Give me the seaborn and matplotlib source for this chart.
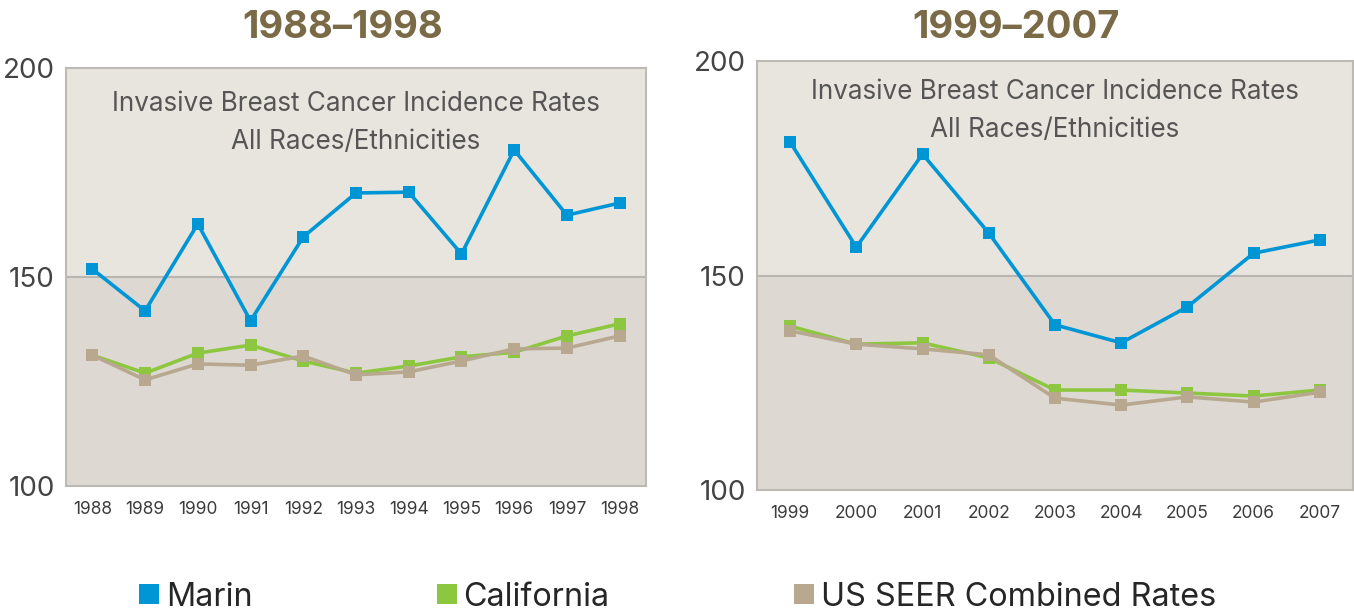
import pandas as pd
import seaborn as sns
import matplotlib.pyplot as plt
from matplotlib.lines import Line2D

# data
years_a = [1988, 1989, 1990, 1991, 1992, 1993, 1994, 1995, 1996, 1997, 1998]
marin_a = [151.9, 141.9, 162.7, 139.5, 159.6, 170.1, 170.3, 155.5, 180.4, 164.8, 167.7]
calif_a = [131.3, 127.0, 131.8, 133.7, 129.9, 127.0, 128.7, 130.9, 132.0, 135.9, 138.8]
seer_a = [131.3, 125.4, 129.2, 128.9, 131.1, 126.6, 127.3, 129.9, 132.8, 133.0, 135.9]

years_b = [1999, 2000, 2001, 2002, 2003, 2004, 2005, 2006, 2007]
marin_b = [181.1, 156.6, 178.3, 159.9, 138.5, 134.3, 142.7, 155.2, 158.3]
calif_b = [138.2, 134.0, 134.3, 130.8, 123.3, 123.3, 122.6, 121.9, 123.3]
seer_b = [137.1, 134.0, 132.9, 131.5, 121.4, 119.8, 121.7, 120.5, 122.8]

series = ['Marin', 'California', 'US SEER Combined Rates']
colors = ['#0096d6', '#8dc63f', '#b8a88f']
titles = ['1988\u20131998', '1999\u20132007']

sns.set_style('white')
plt.rcParams['font.family'] = ['Inter', 'DejaVu Sans']

def to_long(years, marin, calif, seer):
    df = pd.DataFrame({'Year': years, series[0]: marin, series[1]: calif, series[2]: seer})
    return df.melt(id_vars='Year', var_name='Area', value_name='Rate')

data = [to_long(years_a, marin_a, calif_a, seer_a),
        to_long(years_b, marin_b, calif_b, seer_b)]

fig = plt.figure(figsize=(13.54, 6.11), dpi=100)
ax1 = fig.add_axes([66/1354, 1-486/611, 580/1354, 418/611])
ax2 = fig.add_axes([757/1354, 1-490/611, 596/1354, 429/611])

text_y = [(0.913, 0.823), (0.928, 0.839)]
title_x = [343/1354, 1016/1354]

for i, (ax, df) in enumerate(zip([ax1, ax2], data)):
    yrs = df['Year'].unique()
    ax.axhspan(150, 200, color='#e8e5df', zorder=0)
    ax.axhspan(100, 150, color='#ddd9d2', zorder=0)
    ax.axhline(150, color='#b9b6b1', lw=1.5, zorder=1)
    sns.lineplot(data=df, x='Year', y='Rate', hue='Area', palette=colors,
                 marker='s', markersize=8, markeredgewidth=0, linewidth=2.6,
                 ax=ax, legend=False, zorder=3)
    ax.set_xlim(yrs[0] - 0.5, yrs[-1] + 0.5)
    ax.set_ylim(100, 200)
    ax.set_yticks([100, 150, 200])
    ax.set_xticks(yrs)
    ax.set_xticks([y + 0.5 for y in yrs[:-1]], minor=True)
    ax.tick_params(axis='x', which='major', length=0, pad=11, labelsize=12.5, labelcolor='#3c3c3c')
    ax.tick_params(axis='x', which='minor', direction='in', length=7, color='#c4c1bc', width=1.2)
    ax.tick_params(axis='y', length=0, pad=8, labelsize=20, labelcolor='#444444')
    ax.set_xlabel('')
    ax.set_ylabel('')
    for s in ax.spines.values():
        s.set_color('#bdbab5')
        s.set_linewidth(1.5)
    ax.text(0.5, text_y[i][0], 'Invasive Breast Cancer Incidence Rates', transform=ax.transAxes,
            ha='center', va='center', fontsize=18.8, color='#555555')
    ax.text(0.5, text_y[i][1], 'All Races/Ethnicities', transform=ax.transAxes,
            ha='center', va='center', fontsize=18.8, color='#555555')
    fig.text(title_x[i], 1 - 28/611, titles[i], ha='center', va='center',
             fontsize=27.5, fontweight='bold', color='#7a6a45')

handles = [Line2D([], [], marker='s', linestyle='none', markersize=15,
                  markerfacecolor=c, markeredgewidth=0) for c in colors]
fig.legend(handles, series, loc='center left', bbox_to_anchor=(136/1354, 1 - 597/611),
           ncol=3, frameon=False, fontsize=23.3, columnspacing=5.6, handletextpad=0.12,
           handlelength=0.8, borderaxespad=0, borderpad=0)

fig.savefig('out.png', dpi=100)
